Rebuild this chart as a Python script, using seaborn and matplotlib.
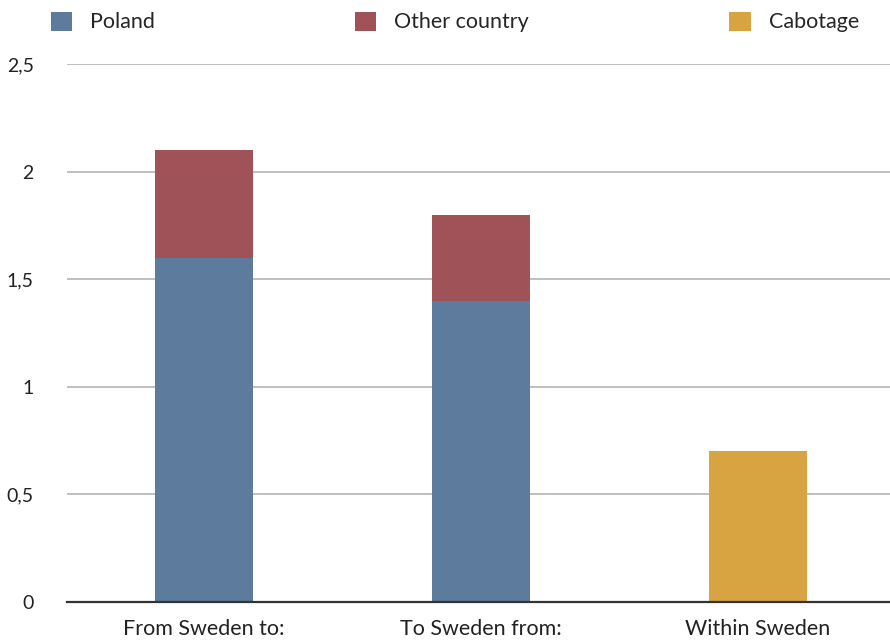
import matplotlib
matplotlib.use("Agg")
import matplotlib.pyplot as plt
import seaborn as sns
import pandas as pd
from matplotlib.patches import Patch

categories = ["From Sweden to:", "To Sweden from:", "Within Sweden"]
poland = [1.6, 1.4, 0.0]
other_country = [0.5, 0.4, 0.0]
cabotage = [0.0, 0.0, 0.7]
ytick_values = [0, 0.5, 1, 1.5, 2, 2.5]
ytick_labels = ["0", "0,5", "1", "1,5", "2", "2,5"]
series_names = ["Poland", "Other country", "Cabotage"]
colors = {"Poland": "#5d7b9d", "Other country": "#9f5257", "Cabotage": "#d8a442"}

sns.set_theme(style="white")
plt.rcParams["font.family"] = ["Lato", "DejaVu Sans"]

df = pd.DataFrame({
    "category": categories,
    "poland": poland,
    "top": [p + o for p, o in zip(poland, other_country)],
    "cabotage": cabotage,
})

fig = plt.figure(figsize=(8.9, 6.4), dpi=100)
ax = fig.add_axes([67 / 890, 38 / 640, 1 - 67 / 890, (602 - 64) / 640])

bw = 0.355
stack_df = df.iloc[:2]
cab_df = df.iloc[2:]
sns.barplot(data=stack_df, x="category", y="top", order=categories, color=colors["Other country"],
            saturation=1, width=bw, ax=ax, zorder=3)
sns.barplot(data=stack_df, x="category", y="poland", order=categories, color=colors["Poland"],
            saturation=1, width=bw, ax=ax, zorder=4)
sns.barplot(data=cab_df, x="category", y="cabotage", order=categories, color=colors["Cabotage"],
            saturation=1, width=bw, ax=ax, zorder=3)

for p in ax.patches:
    p.set_edgecolor("none")

ax.set_xlim(-0.495, 2.477)
ax.set_ylim(0, 2.5)
ax.set_yticks(ytick_values)
ax.set_yticklabels(ytick_labels)
ax.set_xlabel("")
ax.set_ylabel("")
ax.grid(axis="y", color="#b4b4b4", linewidth=1.2, zorder=0)
ax.grid(axis="x", visible=False)
ax.set_axisbelow(True)
for s in ["top", "right", "left"]:
    ax.spines[s].set_visible(False)
ax.spines["bottom"].set_color("#333333")
ax.spines["bottom"].set_linewidth(1.6)
ax.spines["bottom"].set_zorder(5)
ax.tick_params(axis="y", length=0, pad=24, labelsize=14, labelcolor="#222222")
ax.tick_params(axis="x", length=0, pad=12, labelsize=15.5, labelcolor="#222222")

handles = [Patch(facecolor=colors[n], edgecolor="none", label=n) for n in series_names]
fig.legend(handles=handles, loc="center left", bbox_to_anchor=(51 / 890, 1 - 22 / 640),
           ncol=3, frameon=False, fontsize=15.5, handlelength=0.98, handleheight=0.98,
           handletextpad=0.84, columnspacing=9.3, borderpad=0, borderaxespad=0)

fig.savefig("out.png", dpi=100)
